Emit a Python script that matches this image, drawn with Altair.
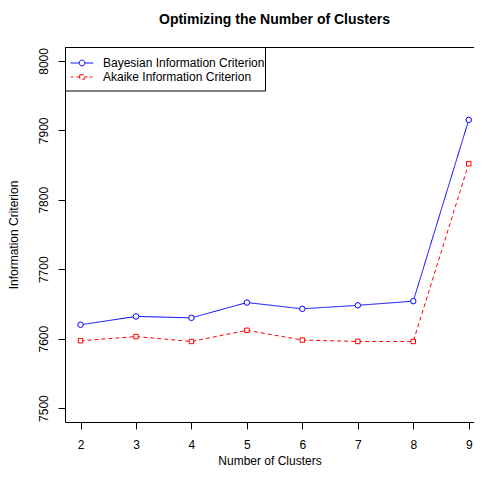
import altair as alt
import pandas as pd

FONT = "Liberation Sans"

clusters = [2, 3, 4, 5, 6, 7, 8, 9]
bic = [7620, 7632, 7630, 7652, 7643, 7648, 7654, 7915]
aic = [7597, 7603, 7596, 7612, 7598, 7596, 7596, 7852]
series_names = ["Bayesian Information Criterion", "Akaike Information Criterion"]
series_colors = ["#0000FF", "#FF0000"]
y_ticks = [7500, 7600, 7700, 7800, 7900, 8000]
x_ticks = clusters

rows = []
for k, b, a in zip(clusters, bic, aic):
    rows.append({"k": k, "value": b, "series": series_names[0]})
    rows.append({"k": k, "value": a, "series": series_names[1]})
df = pd.DataFrame(rows)

W, H = 409, 375
x_scale = alt.Scale(domain=[1.72, 9.095], nice=False, zero=False)
y_scale = alt.Scale(domain=[7480, 8020], nice=False, zero=False)
color_scale = alt.Scale(domain=series_names, range=series_colors)

# legend symbols: line sample with marker in the middle
leg_bic = ("M-3.8,0L-0.95,0M0.95,0L3.8,0"
           "M-0.95,0A0.95,0.95 0 1,1 0.95,0A0.95,0.95 0 1,1 -0.95,0")
leg_aic = ("M-3.7,0L-2.9,0M-1.8,0L-0.75,0M0.75,0L1.8,0M2.6,0L3.5,0"
           "M-0.75,-0.75L0.75,-0.75L0.75,0.75L-0.75,0.75Z")

x_axis = alt.Axis(values=x_ticks, title="Number of Clusters", grid=False,
                  domainColor="black", tickColor="black", tickSize=7,
                  labelFont=FONT, labelFontSize=12, labelColor="black",
                  labelPadding=10, titleFont=FONT, titleFontSize=12,
                  titleFontWeight="normal", titleColor="black", titlePadding=5,
                  labelFlush=False, format="d")
y_axis = alt.Axis(values=y_ticks, title="Information Criterion", grid=False,
                  domainColor="black", tickColor="black", tickSize=7,
                  labelFont=FONT, labelFontSize=12, labelColor="black",
                  labelAngle=270, labelAlign="center", labelBaseline="bottom",
                  labelPadding=8, titleFont=FONT, titleFontSize=12,
                  titleFontWeight="normal", titleColor="black", titlePadding=17,
                  labelFlush=False, format="d")

x_enc = alt.X("k:Q", scale=x_scale, axis=x_axis)
y_enc = alt.Y("value:Q", scale=y_scale, axis=y_axis)

leg_props = dict(orient="none", legendX=0, legendY=10, title=None,
                 labelFont=FONT, labelFontSize=12, labelColor="black",
                 labelLimit=400, symbolSize=36, symbolStrokeWidth=1,
                 symbolOffset=11, labelOffset=15, rowPadding=2, padding=0)

base = alt.Chart(df)

# legend-only layer: no items drawn, the scales' domains feed the legend
legend_layer = base.mark_point(filled=False, opacity=1).encode(
    x=x_enc, y=y_enc,
    color=alt.Color("series:N", scale=color_scale, legend=alt.Legend(**leg_props)),
    shape=alt.Shape("series:N",
                    scale=alt.Scale(domain=series_names, range=[leg_bic, leg_aic]),
                    legend=alt.Legend(**leg_props)),
).transform_filter("false")

lines = base.mark_line(strokeWidth=1).encode(
    x=x_enc, y=y_enc,
    color=alt.Color("series:N", scale=color_scale),
    strokeDash=alt.StrokeDash("series:N",
                              scale=alt.Scale(domain=series_names, range=[[1, 0], [4, 3]]),
                              legend=None),
)

pts_bic = base.mark_point(shape="circle", filled=False, fill="white", size=30,
                          strokeWidth=1, opacity=1).encode(
    x=x_enc, y=y_enc,
    color=alt.Color("series:N", scale=color_scale),
).transform_filter(alt.datum.series == series_names[0])

pts_aic = base.mark_point(shape="square", filled=False, fill="white", size=20,
                          strokeWidth=1, opacity=1).encode(
    x=x_enc, y=y_enc,
    color=alt.Color("series:N", scale=color_scale),
).transform_filter(alt.datum.series == series_names[1])

frame_data = alt.Data(values=[{"f": 1}])
top_border = alt.Chart(frame_data).mark_rule(color="black", strokeWidth=1).encode(
    x=alt.value(0), x2=alt.value(W), y=alt.value(0.5)
)
legend_box = alt.Chart(frame_data).mark_rect(fill="transparent", stroke="black", strokeWidth=1).encode(
    x=alt.value(0.5), x2=alt.value(200.5), y=alt.value(0.5), y2=alt.value(44)
)

chart = alt.layer(legend_layer, top_border, legend_box, lines, pts_bic, pts_aic).properties(
    width=W, height=H,
    title=alt.Title("Optimizing the Number of Clusters", font=FONT, fontSize=14,
                    fontWeight="bold", color="black", anchor="middle", frame="group",
                    dx=5, offset=9, baseline="alphabetic"),
    autosize=alt.AutoSizeParams(type="none"),
    padding={"left": 57, "top": 39, "right": 0, "bottom": 47},
).configure_view(stroke=None).configure(background="white")

chart.save("out.html", embed_options={"renderer": "svg", "actions": False})
